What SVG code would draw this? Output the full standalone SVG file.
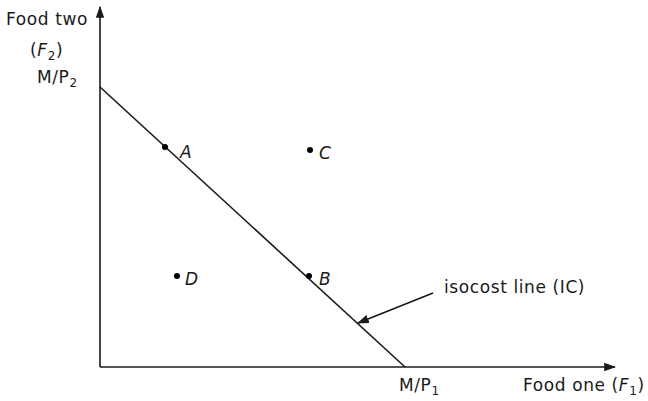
<svg xmlns="http://www.w3.org/2000/svg" width="648" height="401" viewBox="0 0 648 401">
<style>
text{font-family:"DejaVu Sans","Liberation Sans",sans-serif;font-size:17px;letter-spacing:0.6px;fill:#1a1a1a}
.it{font-style:italic}
.ln{stroke:#1a1a1a;stroke-width:1.6;fill:none}
.sub{font-size:12px}
</style>
<defs>
<marker id="ah2" viewBox="0 0 10 10" refX="9" refY="5" markerWidth="12" markerHeight="12" markerUnits="userSpaceOnUse" orient="auto"><path d="M0,1.5L10,5L0,8.5z" fill="#1a1a1a"/></marker>
</defs>
<g id="connectors">
<line class="ln" x1="100" y1="367" x2="100" y2="7" marker-end="url(#ah2)"/>
<line class="ln" x1="100" y1="367" x2="615" y2="367" marker-end="url(#ah2)"/>
<line class="ln" x1="100" y1="87" x2="405" y2="367"/>
<line class="ln" x1="433" y1="293" x2="358" y2="323" marker-end="url(#ah2)"/>
</g>
<g id="axis-y-label"><text x="88" y="25" text-anchor="end">Food two</text><text x="30" y="56">(<tspan class="it">F</tspan><tspan class="sub" dy="4">2</tspan><tspan dy="-4">)</tspan></text></g>
<g id="mp2"><text x="37" y="83">M/P<tspan class="sub" dy="4">2</tspan></text></g>
<g id="mp1"><text x="399" y="391">M/P<tspan class="sub" dy="4">1</tspan></text></g>
<g id="axis-x-label"><text x="523" y="391">Food one (<tspan class="it">F</tspan><tspan class="sub" dy="4">1</tspan><tspan dy="-4">)</tspan></text></g>
<g id="pA"><circle cx="165" cy="147" r="3"/><text class="it" x="180" y="158">A</text></g>
<g id="pC"><circle cx="310" cy="150" r="3"/><text class="it" x="319" y="159">C</text></g>
<g id="pD"><circle cx="177" cy="276" r="3"/><text class="it" x="185" y="285">D</text></g>
<g id="pB"><circle cx="309" cy="276" r="3"/><text class="it" x="319" y="285">B</text></g>
<g id="ic-label"><text x="444" y="293">isocost line (IC)</text></g>
</svg>
